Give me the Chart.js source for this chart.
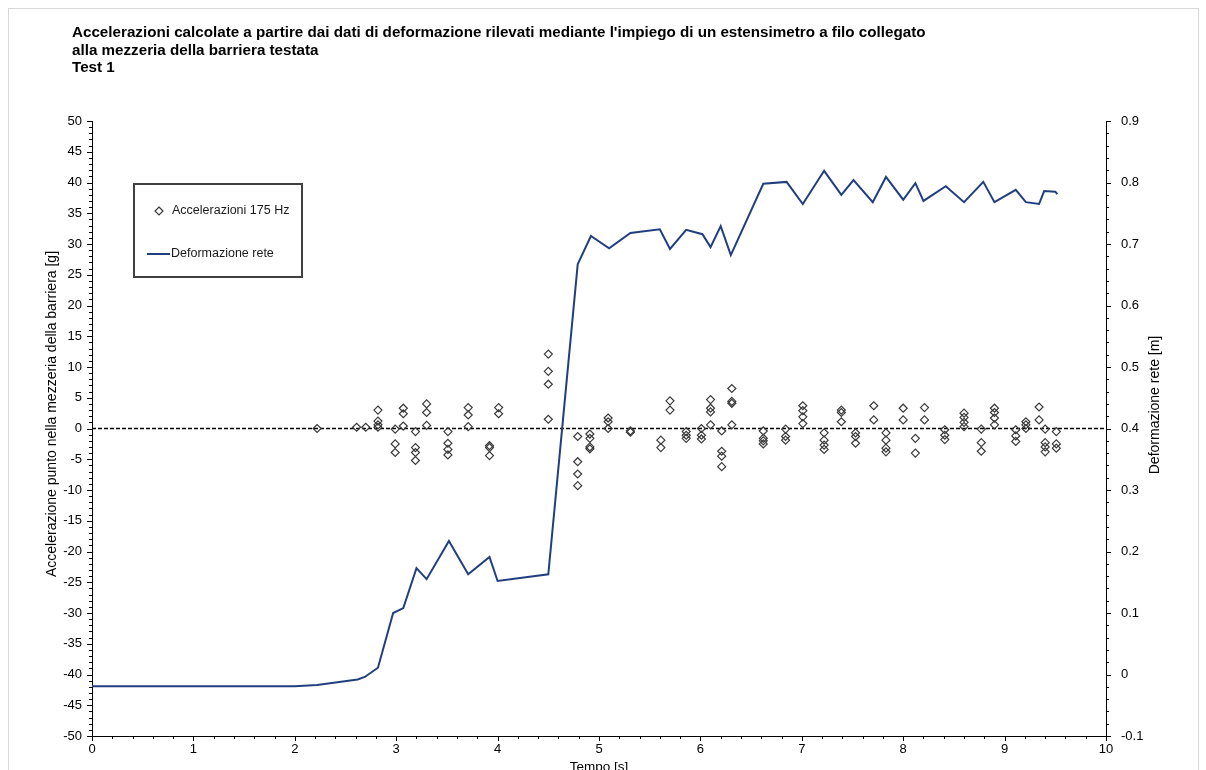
<!DOCTYPE html>
<html>
<head>
<meta charset="utf-8">
<script src="https://cdn.jsdelivr.net/npm/chart.js@4.4.1/dist/chart.umd.min.js"></script>
<style>
  html, body { margin: 0; padding: 0; background: #fff; overflow: hidden; width: 1206px; height: 770px; }
  canvas { display: block; }
</style>
</head>
<body>
<canvas id="chart" width="1206" height="790"></canvas>
<script>
// Chart heading
const titleLines = [
  "Accelerazioni calcolate a partire dai dati di deformazione rilevati mediante l'impiego di un estensimetro a filo collegato",
  "alla mezzeria della barriera testata",
  "Test 1"
];

// Series names
const seriesScatterName = "Accelerazioni 175 Hz";
const seriesLineName = "Deformazione rete";

// Axis titles
const xTitle = "Tempo [s]";
const yLeftTitle = "Accelerazione punto nella mezzeria della barriera [g]";
const yRightTitle = "Deformazione rete [m]";

// Net deformation over time (s, m)
const lineTime = [0, 2.0, 2.22, 2.62, 2.69, 2.82, 2.97, 3.07, 3.2, 3.3, 3.52, 3.71, 3.92, 4.0, 4.5,
  4.79, 4.92, 5.1, 5.31, 5.6, 5.7, 5.86, 6.02, 6.1, 6.2, 6.3, 6.62, 6.85, 7.01, 7.22, 7.39, 7.51,
  7.7, 7.83, 8.0, 8.12, 8.2, 8.42, 8.6, 8.79, 8.9, 9.11, 9.21, 9.34, 9.39, 9.5, 9.52];
const lineDeform = [-0.019, -0.019, -0.017, -0.008, -0.004, 0.011, 0.100, 0.108, 0.173, 0.155, 0.217, 0.163, 0.191, 0.152, 0.163,
  0.667, 0.713, 0.693, 0.718, 0.724, 0.692, 0.723, 0.716, 0.695, 0.729, 0.682, 0.798, 0.801, 0.765, 0.819, 0.780, 0.804,
  0.768, 0.809, 0.772, 0.799, 0.770, 0.794, 0.768, 0.801, 0.768, 0.788, 0.768, 0.765, 0.786, 0.785, 0.781];

// Accelerations at mid-span (s, g)
const scatterTime = [
  2.22, 2.61, 2.70,
  2.82, 2.82, 2.82, 2.82,
  2.99, 2.99, 2.99,
  3.07, 3.07, 3.07,
  3.19, 3.19, 3.19, 3.19,
  3.30, 3.30, 3.30,
  3.51, 3.51, 3.51, 3.51,
  3.71, 3.71, 3.71,
  3.92, 3.92, 3.92,
  4.01, 4.01,
  4.50, 4.50, 4.50, 4.50,
  4.79, 4.79, 4.79, 4.79,
  4.91, 4.91, 4.91, 4.91,
  5.09, 5.09, 5.09,
  5.31, 5.31,
  5.61, 5.61,
  5.70, 5.70,
  5.86, 5.86, 5.86,
  6.01, 6.01, 6.01,
  6.10, 6.10, 6.10, 6.10,
  6.21, 6.21, 6.21, 6.21,
  6.31, 6.31, 6.31, 6.31,
  6.62, 6.62, 6.62, 6.62,
  6.84, 6.84, 6.84,
  7.01, 7.01, 7.01, 7.01,
  7.22, 7.22, 7.22, 7.22,
  7.39, 7.39, 7.39,
  7.53, 7.53, 7.53,
  7.71, 7.71,
  7.83, 7.83, 7.83, 7.83,
  8.00, 8.00,
  8.12, 8.12,
  8.21, 8.21,
  8.41, 8.41, 8.41,
  8.60, 8.60, 8.60, 8.60,
  8.77, 8.77, 8.77,
  8.90, 8.90, 8.90, 8.90,
  9.11, 9.11, 9.11,
  9.21, 9.21, 9.21,
  9.34, 9.34,
  9.40, 9.40, 9.40, 9.40,
  9.51, 9.51, 9.51
];
const scatterAccel = [
  0.0, 0.2, 0.2,
  3.0, 1.2, 0.6, 0.2,
  -0.1, -2.5, -3.9,
  3.3, 2.4, 0.4,
  -0.5, -3.1, -3.9, -5.2,
  4.0, 2.6, 0.5,
  -0.5, -2.4, -3.4, -4.3,
  3.4, 2.2, 0.3,
  -2.8, -3.1, -4.4,
  3.4, 2.4,
  12.1, 9.3, 7.2, 1.5,
  -1.3, -5.4, -7.4, -9.3,
  -0.9, -1.6, -3.0, -3.3,
  1.7, 1.1, 0.0,
  -0.4, -0.6,
  -1.9, -3.1,
  4.5, 3.0,
  -0.5, -1.1, -1.6,
  0.0, -1.1, -1.7,
  4.7, 3.3, 2.7, 0.6,
  -0.4, -3.7, -4.5, -6.2,
  6.5, 4.4, 4.1, 0.6,
  -0.4, -1.6, -2.0, -2.5,
  -0.1, -1.3, -1.9,
  3.7, 2.9, 1.9, 0.8,
  -0.7, -1.9, -2.7, -3.4,
  3.0, 2.6, 1.1,
  -0.7, -1.3, -2.4,
  3.7, 1.4,
  -0.7, -1.9, -3.2, -3.8,
  3.3, 1.4,
  -1.6, -4.0,
  3.4, 1.4,
  -0.2, -1.1, -1.8,
  2.5, 1.8, 1.0, 0.3,
  -0.1, -2.3, -3.7,
  3.3, 2.6, 1.7, 0.6,
  -0.2, -1.2, -2.1,
  1.1, 0.6, 0.0,
  3.5, 1.4,
  -0.1, -2.3, -3.0, -3.8,
  -0.5, -2.5, -3.2
];

// Zero reference for the acceleration axis
const zeroLineTime = [0, 10];
const zeroLineValue = [0, 0];

// Axis ranges and tick steps
const xRange = [0, 10], xStep = 1, xMinorStep = 0.2;
const yRange = [-50, 50], yStep = 5, yMinorStep = 1;
const y1Range = [-0.1, 0.9], y1Step = 0.1, y1MinorStep = 0.02;

const FONT = "'Liberation Sans', Arial, sans-serif";
const NAVY = '#213F7F';
const MARKER = '#3a3a3a';

const pairs = (xs, ys) => xs.map((x, i) => ({ x: x, y: ys[i] }));

// White page, faint outer frame and the heading
const backdrop = {
  id: 'backdrop',
  beforeDraw(chart) {
    const ctx = chart.ctx;
    ctx.save();
    ctx.fillStyle = '#fff';
    ctx.fillRect(0, 0, chart.width, chart.height);
    ctx.strokeStyle = '#d9d9d9';
    ctx.lineWidth = 1;
    ctx.strokeRect(8.5, 8.5, 1190, 800);
    ctx.fillStyle = '#000';
    ctx.font = 'bold 15.2px ' + FONT;
    ctx.textBaseline = 'middle';
    ctx.textAlign = 'left';
    titleLines.forEach((t, i) => ctx.fillText(t, 72, 33 + i * 17.5));
    ctx.restore();
  }
};

// Rotated titles of the two value axes
const sideTitles = {
  id: 'sideTitles',
  afterDraw(chart) {
    const ctx = chart.ctx;
    ctx.save();
    ctx.fillStyle = '#000';
    ctx.font = '14px ' + FONT;
    ctx.textAlign = 'center';
    ctx.textBaseline = 'middle';
    ctx.translate(52, 414);
    ctx.rotate(-Math.PI / 2);
    ctx.fillText(yLeftTitle, 0, 0);
    ctx.restore();
    ctx.save();
    ctx.fillStyle = '#000';
    ctx.font = '14px ' + FONT;
    ctx.textAlign = 'center';
    ctx.textBaseline = 'middle';
    ctx.translate(1155, 405);
    ctx.rotate(-Math.PI / 2);
    ctx.fillText(yRightTitle, 0, 0);
    ctx.restore();
  }
};

// Major and minor tick marks on the three axes
const tickMarks = {
  id: 'tickMarks',
  afterDraw(chart) {
    const ctx = chart.ctx;
    const { x, y, y1 } = chart.scales;
    const area = chart.chartArea;
    ctx.save();
    ctx.strokeStyle = '#000';
    ctx.lineWidth = 1;
    ctx.beginPath();
    const near = (v, step) => Math.abs(v / step - Math.round(v / step)) < 1e-6;
    for (let i = 0; i <= Math.round((xRange[1] - xRange[0]) / xMinorStep); i++) {
      const v = xRange[0] + i * xMinorStep;
      const px = Math.round(x.getPixelForValue(v)) + 0.5;
      const len = near(v, xStep) ? 5 : 3;
      ctx.moveTo(px, area.bottom);
      ctx.lineTo(px, area.bottom + len);
    }
    for (let i = 0; i <= Math.round((yRange[1] - yRange[0]) / yMinorStep); i++) {
      const v = yRange[0] + i * yMinorStep;
      const py = Math.round(y.getPixelForValue(v)) + 0.5;
      const len = near(v, yStep) ? 5 : 3;
      ctx.moveTo(area.left, py);
      ctx.lineTo(area.left - len, py);
    }
    for (let i = 0; i <= Math.round((y1Range[1] - y1Range[0]) / y1MinorStep); i++) {
      const v = y1Range[0] + i * y1MinorStep;
      const py = Math.round(y1.getPixelForValue(v)) + 0.5;
      const len = near(v, y1Step) ? 5 : 3;
      ctx.moveTo(area.right, py);
      ctx.lineTo(area.right + len, py);
    }
    ctx.stroke();
    ctx.restore();
  }
};

// Boxed legend inside the plot
const boxLegend = {
  id: 'boxLegend',
  afterDraw(chart) {
    const ctx = chart.ctx;
    ctx.save();
    ctx.strokeStyle = '#404040';
    ctx.lineWidth = 2;
    ctx.strokeRect(134, 184, 168, 93);
    // marker entry
    ctx.strokeStyle = MARKER;
    ctx.lineWidth = 1.2;
    ctx.beginPath();
    ctx.moveTo(159, 207); ctx.lineTo(163, 211); ctx.lineTo(159, 215); ctx.lineTo(155, 211); ctx.closePath();
    ctx.stroke();
    // line entry
    ctx.strokeStyle = NAVY;
    ctx.lineWidth = 2;
    ctx.beginPath();
    ctx.moveTo(147, 254); ctx.lineTo(170, 254);
    ctx.stroke();
    ctx.fillStyle = '#1a1a1a';
    ctx.font = '12.5px ' + FONT;
    ctx.textBaseline = 'middle';
    ctx.fillText(seriesScatterName, 172, 211);
    ctx.fillText(seriesLineName, 171, 254);
    ctx.restore();
  }
};

Chart.defaults.font.family = FONT;
Chart.defaults.color = '#000';

new Chart(document.getElementById('chart'), {
  data: {
    datasets: [
      {
        type: 'line',
        label: seriesLineName,
        data: pairs(lineTime, lineDeform),
        yAxisID: 'y1',
        borderColor: NAVY,
        borderWidth: 2,
        pointRadius: 0,
        tension: 0,
        fill: false,
        order: 1
      },
      {
        type: 'scatter',
        label: seriesScatterName,
        data: pairs(scatterTime, scatterAccel),
        yAxisID: 'y',
        pointStyle: 'rectRot',
        pointRadius: 4,
        borderColor: MARKER,
        backgroundColor: 'rgba(0,0,0,0)',
        borderWidth: 1.2,
        order: 2
      },
      {
        type: 'line',
        label: 'zero',
        data: pairs(zeroLineTime, zeroLineValue),
        yAxisID: 'y',
        borderColor: '#000',
        borderWidth: 1.5,
        borderDash: [4, 2],
        pointRadius: 0,
        fill: false,
        order: 3
      }
    ]
  },
  options: {
    responsive: false,
    devicePixelRatio: 1,
    animation: false,
    layout: { padding: { top: 121, left: 0, right: 0, bottom: 0 } },
    plugins: {
      legend: { display: false },
      tooltip: { enabled: false },
      title: { display: false }
    },
    scales: {
      x: {
        type: 'linear',
        position: 'bottom',
        min: xRange[0], max: xRange[1],
        ticks: { stepSize: xStep, padding: 6, font: { size: 13 }, color: '#000' },
        grid: { display: false, drawTicks: false },
        border: { display: true, color: '#000', width: 1 },
        title: { display: true, text: xTitle, font: { size: 13.5 }, color: '#000', padding: { top: 0, bottom: 15 } },
        afterFit(s) { s.height = 54; }
      },
      y: {
        type: 'linear',
        position: 'left',
        min: yRange[0], max: yRange[1],
        ticks: { stepSize: yStep, padding: 10, font: { size: 13 }, color: '#000' },
        grid: { display: false, drawTicks: false },
        border: { display: true, color: '#000', width: 1 },
        afterFit(s) { s.width = 92; }
      },
      y1: {
        type: 'linear',
        position: 'right',
        min: y1Range[0], max: y1Range[1],
        ticks: {
          stepSize: y1Step, padding: 15, font: { size: 13 }, color: '#000',
          callback: v => String(Number(v.toFixed(1)))
        },
        grid: { display: false, drawTicks: false },
        border: { display: true, color: '#000', width: 1 },
        afterFit(s) { s.width = 100; }
      }
    }
  },
  plugins: [backdrop, sideTitles, tickMarks, boxLegend]
});
</script>
</body>
</html>
